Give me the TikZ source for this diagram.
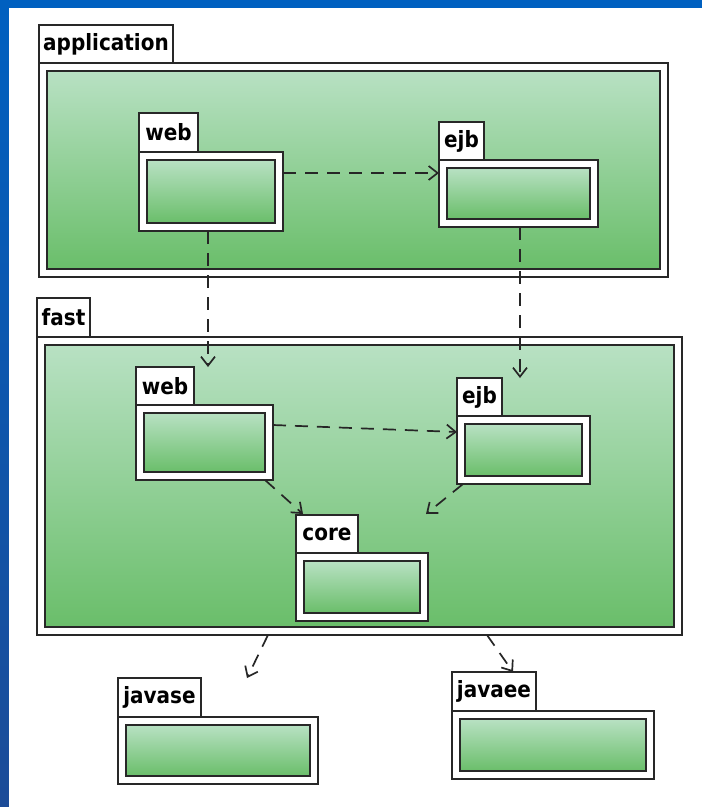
\documentclass[tikz,border=0pt]{standalone}
\usepackage{fontspec}
\newfontfamily\pkgfont{DejaVu Sans Bold}
\usetikzlibrary{fit,arrows.meta}
\definecolor{gtop}{RGB}{184,225,195}
\definecolor{gbot}{RGB}{106,190,106}
\definecolor{edge}{RGB}{40,40,40}
\definecolor{btop}{RGB}{0,96,192}
\definecolor{bbot}{RGB}{28,76,152}
\tikzset{
  tabbox/.style={rectangle, draw=edge, line width=1.8pt, fill=white, inner sep=0pt, outer sep=0pt},
  bodybox/.style={rectangle, draw=edge, line width=1.8pt, fill=white, inner sep=0pt, outer sep=0pt},
  innerbox/.style={rectangle, draw=edge, line width=1.8pt, top color=gtop, bottom color=gbot, inner sep=0pt, outer sep=0pt},
  tabtext/.style={font=\pkgfont\fontsize{20}{24}\selectfont, text=black, inner sep=0pt},
  dep/.style={draw=black!85, line width=1.7pt, dash pattern=on 13pt off 9pt,
    -{Straight Barb[length=9pt,width=14pt,line width=1.7pt]}},
}
% name, label, left x, tab top y, tab right x, body top y, body right x, body bottom y
\newcommand\umlpkg[8]{%
  \node[tabbox, fit={(#3,#4)(#5,#6)}] (#1tab) {};
  \node[tabtext] (#1lbl) at (#1tab.center) {\scalebox{1}[1.12]{#2}};
  \node[bodybox, fit={(#3,#6)(#7,#8)}] (#1) {};
  \node[innerbox, fit={({#3+8},{#6+8})({#7-8},{#8-8})}] (#1in) {};
}
\begin{document}
\begin{tikzpicture}[x=1pt,y=-1pt]
  \useasboundingbox (0,0) rectangle (702,807);
  \shade[top color=btop, bottom color=bbot] (0,0) rectangle (702,807);
  \fill[white] (9,8) rectangle (702,807);

  % outer packages
  \umlpkg{app}{application}{39}{25}{173}{63}{668}{277}
  \umlpkg{fast}{fast}{37}{298}{90}{337}{682}{635}

  % inner packages
  \umlpkg{appweb}{web}{139}{113}{198}{152}{283}{231}
  \umlpkg{appejb}{ejb}{439}{122}{484}{160}{598}{227}
  \umlpkg{fastweb}{web}{136}{367}{194}{405}{273}{480}
  \umlpkg{fastejb}{ejb}{457}{378}{502}{416}{590}{484}
  \umlpkg{core}{core}{296}{515}{358}{553}{428}{621}

  % external packages
  \umlpkg{javase}{javase}{118}{678}{201}{717}{318}{784}
  \umlpkg{javaee}{javaee}{452}{672}{536}{711}{654}{779}

  % dependencies
  \draw[dep] ([yshift=-21pt]appweb.north east) -- ([yshift=-13pt]appejb.north west);
  \draw[dep] ([xshift=69pt]appweb.south west) -- ([xshift=72pt]fastweb.north west |- fastwebtab.north);
  \draw[dep] ([xshift=81pt]appejb.south west) -- ([xshift=63pt]fastejb.north west |- fastejbtab.north);
  \draw[dep] ([yshift=-20pt]fastweb.north east) -- ([yshift=-16pt]fastejb.north west);
  \draw[dep] ([xshift=-8pt]fastweb.south east) -- ([xshift=7pt,yshift=1pt]coretab.north west);
  \draw[dep] ([xshift=6pt]fastejb.south west) -- ([xshift=-2pt,yshift=1pt]core.east |- coretab.north);
  \draw[dep] ([xshift=231pt]fast.south west) -- ([xshift=129pt]javase.north west |- javasetab.north);
  \draw[dep] ([xshift=450pt]fast.south west) -- ([xshift=61pt]javaee.north west |- javaeetab.north);
\end{tikzpicture}
\end{document}
